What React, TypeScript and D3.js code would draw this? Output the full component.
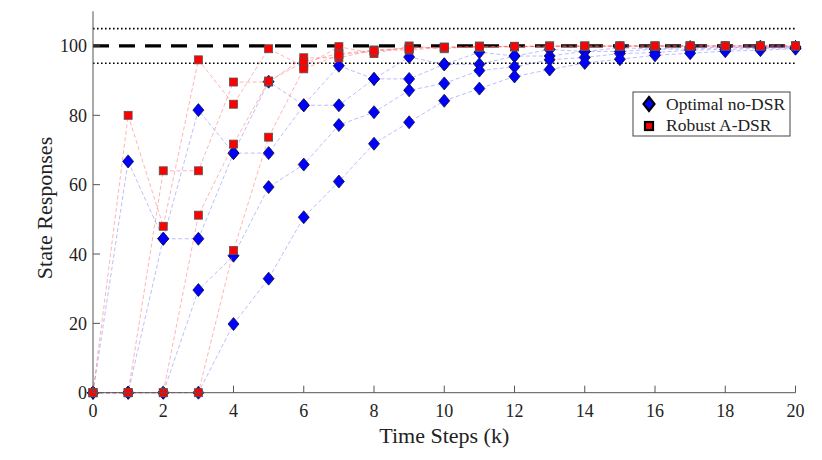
import * as d3 from "d3";

// time steps and ticks
const steps = [0, 1, 2, 3, 4, 5, 6, 7, 8, 9, 10, 11, 12, 13, 14, 15, 16, 17, 18, 19, 20];
const xTicks = [0, 2, 4, 6, 8, 10, 12, 14, 16, 18, 20];
const yTicks = [0, 20, 40, 60, 80, 100];
const refTarget = 100;
const refBand = [95, 105];

// Optimal no-DSR (blue diamonds), one array per state
const optimal0 = [0, 66.7, 44.4, 81.5, 69.1, 89.7, 82.9, 94.3, 90.5, 96.8, 94.7, 98.2, 97.1, 99.0, 98.4, 99.5, 99.1, 99.7, 99.5, 99.8, 99.7];
const optimal1 = [0, 0, 44.4, 44.4, 69.1, 69.1, 82.9, 82.9, 90.5, 90.5, 94.7, 94.7, 97.1, 97.1, 98.4, 98.4, 99.1, 99.1, 99.5, 99.5, 99.7];
const optimal2 = [0, 0, 0, 29.6, 39.5, 59.3, 65.8, 77.2, 80.9, 87.2, 89.2, 92.9, 94.0, 96.0, 96.7, 97.8, 98.1, 98.8, 99.0, 99.3, 99.4];
const optimal3 = [0, 0, 0, 0, 19.8, 32.9, 50.6, 60.9, 71.8, 78.0, 84.2, 87.7, 91.2, 93.2, 95.1, 96.2, 97.3, 97.9, 98.5, 98.8, 99.2];

// Robust A-DSR (red squares)
const robust0 = [0, 80, 48, 96, 83.2, 99.2, 94.1, 99.8, 97.8, 100, 99.2, 100, 99.7, 100, 99.9, 100, 99.9, 100, 100, 100, 100];
const robust1 = [0, 0, 64, 64, 89.6, 89.6, 96.6, 96.6, 98.8, 98.8, 99.6, 99.6, 99.8, 99.8, 99.9, 99.9, 100, 100, 100, 100, 100];
const robust2 = [0, 0, 0, 51.2, 71.7, 89.9, 95.4, 97.8, 98.8, 99.4, 99.7, 99.8, 99.9, 100, 100, 100, 100, 100, 100, 100, 100];
const robust3 = [0, 0, 0, 0, 41.0, 73.7, 93.4, 97.4, 98.6, 99.3, 99.6, 99.8, 99.9, 99.9, 100, 100, 100, 100, 100, 100, 100];

const optimalSeries = [optimal0, optimal1, optimal2, optimal3];
const robustSeries = [robust0, robust1, robust2, robust3];

const W = 822;
const H = 460;
const FONT = "'Liberation Serif', 'Times New Roman', serif";

const x = d3.scaleLinear().domain([0, 20]).range([93, 795.5]);
const y = d3.scaleLinear().domain([0, 110]).range([392.7, 11.3]);

const line = d3
  .line<number>()
  .x((_, i) => x(steps[i]))
  .y((d) => y(d));

const diamond = (cx: number, cy: number, w = 5.5, h = 6.5) =>
  `M${cx},${cy - h}L${cx + w},${cy}L${cx},${cy + h}L${cx - w},${cy}Z`;

export default function App() {
  const x0 = x(0);
  const x1 = x(20);
  return (
    <svg
      width={W}
      height={H}
      style={{ position: "absolute", left: 0, top: 0, background: "#fff" }}
      fontFamily={FONT}
    >
      {/* reference lines */}
      {refBand.map((v) => (
        <line key={v} x1={x0} x2={x1} y1={y(v)} y2={y(v)} stroke="#000" strokeWidth={1.6} strokeDasharray="1.6,2.4" />
      ))}
      <line x1={x0} x2={x1} y1={y(refTarget)} y2={y(refTarget)} stroke="#000" strokeWidth={3.2} strokeDasharray="16,10" />

      {/* optimal no-DSR */}
      {optimalSeries.map((s, i) => (
        <path key={"bl" + i} d={line(s) ?? ""} fill="none" stroke="rgba(80,80,255,0.42)" strokeWidth={0.9} strokeDasharray="4,2.5" />
      ))}
      {optimalSeries.map((s, i) => (
        <g key={"bm" + i}>
          {s.map((v, k) => (
            <path key={k} d={diamond(x(steps[k]), y(v))} fill="#0000ff" stroke="#101040" strokeWidth={0.8} />
          ))}
        </g>
      ))}

      {/* robust A-DSR */}
      {robustSeries.map((s, i) => (
        <path key={"rl" + i} d={line(s) ?? ""} fill="none" stroke="rgba(255,80,80,0.48)" strokeWidth={0.9} strokeDasharray="4,2.5" />
      ))}
      {robustSeries.map((s, i) => (
        <g key={"rm" + i}>
          {s.map((v, k) => (
            <rect key={k} x={x(steps[k]) - 4} y={y(v) - 4} width={8} height={8} fill="#ff0000" stroke="#555" strokeWidth={0.8} />
          ))}
        </g>
      ))}

      {/* axes */}
      <line x1={x0} x2={x0} y1={y(0)} y2={y(110)} stroke="#555" strokeWidth={1} />
      <line x1={x0} x2={x1} y1={y(0)} y2={y(0)} stroke="#555" strokeWidth={1} />
      {xTicks.map((t) => (
        <g key={"xt" + t}>
          <line x1={x(t)} x2={x(t)} y1={y(0)} y2={y(0) - 7} stroke="#555" />
          <text x={x(t)} y={417} textAnchor="middle" fontSize={18} fill="#222">
            {t}
          </text>
        </g>
      ))}
      {yTicks.map((t) => (
        <g key={"yt" + t}>
          <line x1={x0} x2={x0 + 7} y1={y(t)} y2={y(t)} stroke="#555" />
          <text x={87} y={y(t) + 6.5} textAnchor="end" fontSize={18} fill="#222">
            {t}
          </text>
        </g>
      ))}
      <text x={(x0 + x1) / 2} y={443} textAnchor="middle" fontSize={22} fill="#222">
        Time Steps (k)
      </text>
      <text transform="translate(52,208) rotate(-90)" textAnchor="middle" fontSize={22} fill="#222">
        State Responses
      </text>

      {/* legend */}
      <g>
        <rect x={633} y={92} width={157} height={44} fill="#fff" stroke="#444" strokeWidth={1} />
        <path d={diamond(649, 104, 5.5, 7)} fill="#0000ff" stroke="#000" strokeWidth={2.2} />
        <text x={666} y={110} fontSize={17.5} fill="#222">
          Optimal no-DSR
        </text>
        <rect x={645} y={122} width={8} height={8} fill="#ff0000" stroke="#000" strokeWidth={2.2} />
        <text x={666} y={131} fontSize={17.5} fill="#222">
          Robust A-DSR
        </text>
      </g>
    </svg>
  );
}
